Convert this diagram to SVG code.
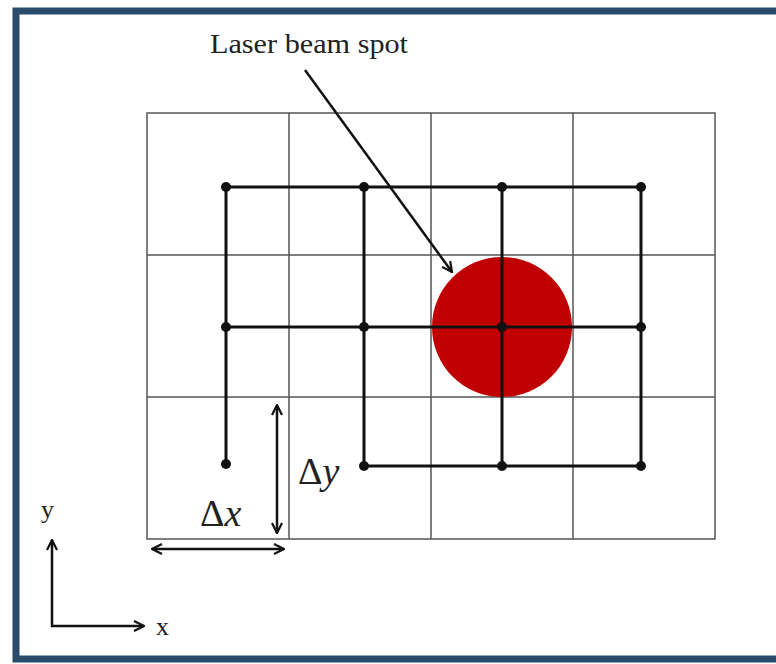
<svg xmlns="http://www.w3.org/2000/svg" width="776" height="664" viewBox="0 0 776 664">
<defs>
<marker id="ah" viewBox="0 0 12 12" refX="11" refY="6" markerWidth="12" markerHeight="12" markerUnits="userSpaceOnUse" orient="auto-start-reverse">
<path d="M1,1 L11,6 L1,11" fill="none" stroke="#111" stroke-width="2.2"/>
</marker>
</defs>
<style>
.grid{stroke:#555;stroke-width:1.5;fill:none}
.path{stroke:#111;stroke-width:3;fill:none}
.arr{stroke:#111;stroke-width:2.5;fill:none}
.dot{fill:#111}
.t{font-family:"Liberation Serif",serif;fill:#222}
</style>
<rect width="776" height="664" fill="#fff"/>
<g id="frame" fill="none" stroke="#2b4b6c" stroke-width="7">
<path d="M776,11 L16,11 L16,659 L776,659"/>
</g>
<g id="grid" class="grid">
<rect x="147" y="113" width="568" height="426"/>
<path d="M289,113V539M431,113V539M573,113V539M147,255H715M147,397H715"/>
</g>
<g id="spot"><circle cx="502" cy="327" r="70" fill="#c00000"/></g>
<g id="connectors">
<path class="path" d="M226,464V187H641V466H364V187M226,327H641M502,187V466"/>
<line class="arr" x1="305" y1="70" x2="452" y2="272" marker-end="url(#ah)"/>
<line class="arr" x1="277" y1="405" x2="277" y2="533" marker-start="url(#ah)" marker-end="url(#ah)"/>
<line class="arr" x1="152" y1="549" x2="284" y2="549" marker-start="url(#ah)" marker-end="url(#ah)"/>
<path class="arr" d="M52,540V626H144" marker-start="url(#ah)" marker-end="url(#ah)"/>
</g>
<g id="dots" class="dot">
<circle cx="226" cy="187" r="5"/><circle cx="364" cy="187" r="5"/><circle cx="502" cy="187" r="5"/><circle cx="641" cy="187" r="5"/>
<circle cx="226" cy="327" r="5"/><circle cx="364" cy="327" r="5"/><circle cx="502" cy="327" r="5"/><circle cx="641" cy="327" r="5"/>
<circle cx="226" cy="464" r="5"/><circle cx="364" cy="466" r="5"/><circle cx="502" cy="466" r="5"/><circle cx="641" cy="466" r="5"/>
</g>
<g id="labels">
<text class="t" x="210" y="53" font-size="28" textLength="198" lengthAdjust="spacingAndGlyphs">Laser beam spot</text>
<text class="t" x="200" y="526" font-size="38">Δ<tspan font-style="italic">x</tspan></text>
<text class="t" x="298" y="484" font-size="38">Δ<tspan font-style="italic">y</tspan></text>
<text class="t" x="41" y="518" font-size="26">y</text>
<text class="t" x="156" y="635" font-size="26">x</text>
</g>
</svg>
